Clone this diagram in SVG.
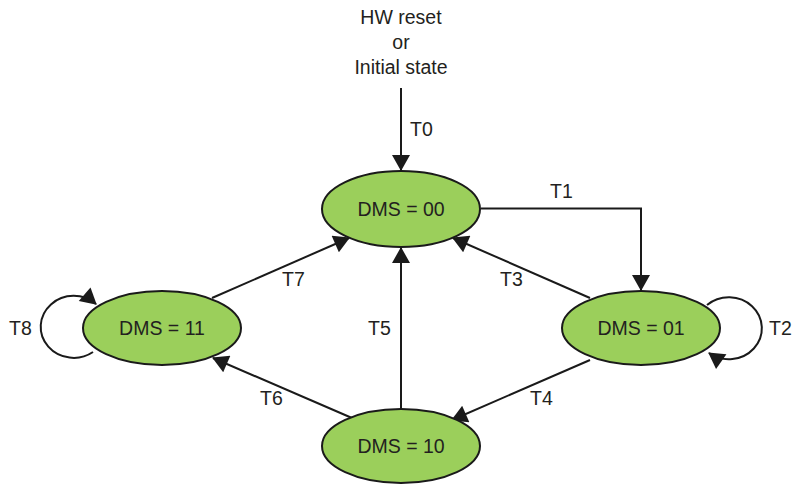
<svg xmlns="http://www.w3.org/2000/svg" width="792" height="487" viewBox="0 0 792 487">
<style>
.st{fill:#9bcf5b;stroke:#1a1a1a;stroke-width:2}
.ln{fill:none;stroke:#1a1a1a;stroke-width:2}
text{font-family:"Liberation Sans",Arial,sans-serif;font-size:19.5px;fill:#231f20}
.c{text-anchor:middle}
</style>
<defs>
<marker id="ah" markerUnits="userSpaceOnUse" markerWidth="18" markerHeight="18" viewBox="0 0 16 18" refX="15" refY="9" orient="auto">
<path d="M0,0 L16,9 L0,18 z" fill="#1a1a1a"/>
</marker>
</defs>
<rect width="792" height="487" fill="#fff"/>
<g id="start">
<text class="c" x="401" y="23.5">HW reset</text>
<text class="c" x="401" y="48.5">or</text>
<text class="c" x="401" y="73.5">Initial state</text>
</g>
<g id="connectors">
<line class="ln" x1="401" y1="88" x2="401" y2="170" marker-end="url(#ah)"/>
<polyline class="ln" points="481,208.5 641,208.5 641,290" marker-end="url(#ah)"/>
<line class="ln" x1="590" y1="298" x2="453" y2="238" marker-end="url(#ah)"/>
<line class="ln" x1="212" y1="298" x2="349" y2="238" marker-end="url(#ah)"/>
<line class="ln" x1="401" y1="409" x2="401" y2="248" marker-end="url(#ah)"/>
<line class="ln" x1="352" y1="418" x2="213" y2="358" marker-end="url(#ah)"/>
<line class="ln" x1="590" y1="360" x2="452" y2="420" marker-end="url(#ah)"/>
<path class="ln" d="M93,352 A33 31 0 1 1 96,304" marker-end="url(#ah)"/>
<path class="ln" d="M707,305 A33 31 0 1 1 709,353" marker-end="url(#ah)"/>
<text x="410" y="136">T0</text>
<text x="550" y="198">T1</text>
<text x="500" y="286">T3</text>
<text x="282" y="286">T7</text>
<text x="368" y="335">T5</text>
<text x="260" y="405">T6</text>
<text x="530" y="405">T4</text>
<text x="9" y="335">T8</text>
<text x="769" y="335">T2</text>
</g>
<g id="s00">
<ellipse class="st" cx="401" cy="209" rx="79" ry="38"/>
<text class="c" x="401" y="216">DMS = 00</text>
</g>
<g id="s11">
<ellipse class="st" cx="162" cy="328" rx="79" ry="37"/>
<text class="c" x="162" y="335">DMS = 11</text>
</g>
<g id="s01">
<ellipse class="st" cx="641" cy="328" rx="79" ry="37"/>
<text class="c" x="641" y="335">DMS = 01</text>
</g>
<g id="s10">
<ellipse class="st" cx="401" cy="446" rx="79" ry="37"/>
<text class="c" x="401" y="453">DMS = 10</text>
</g>
</svg>
